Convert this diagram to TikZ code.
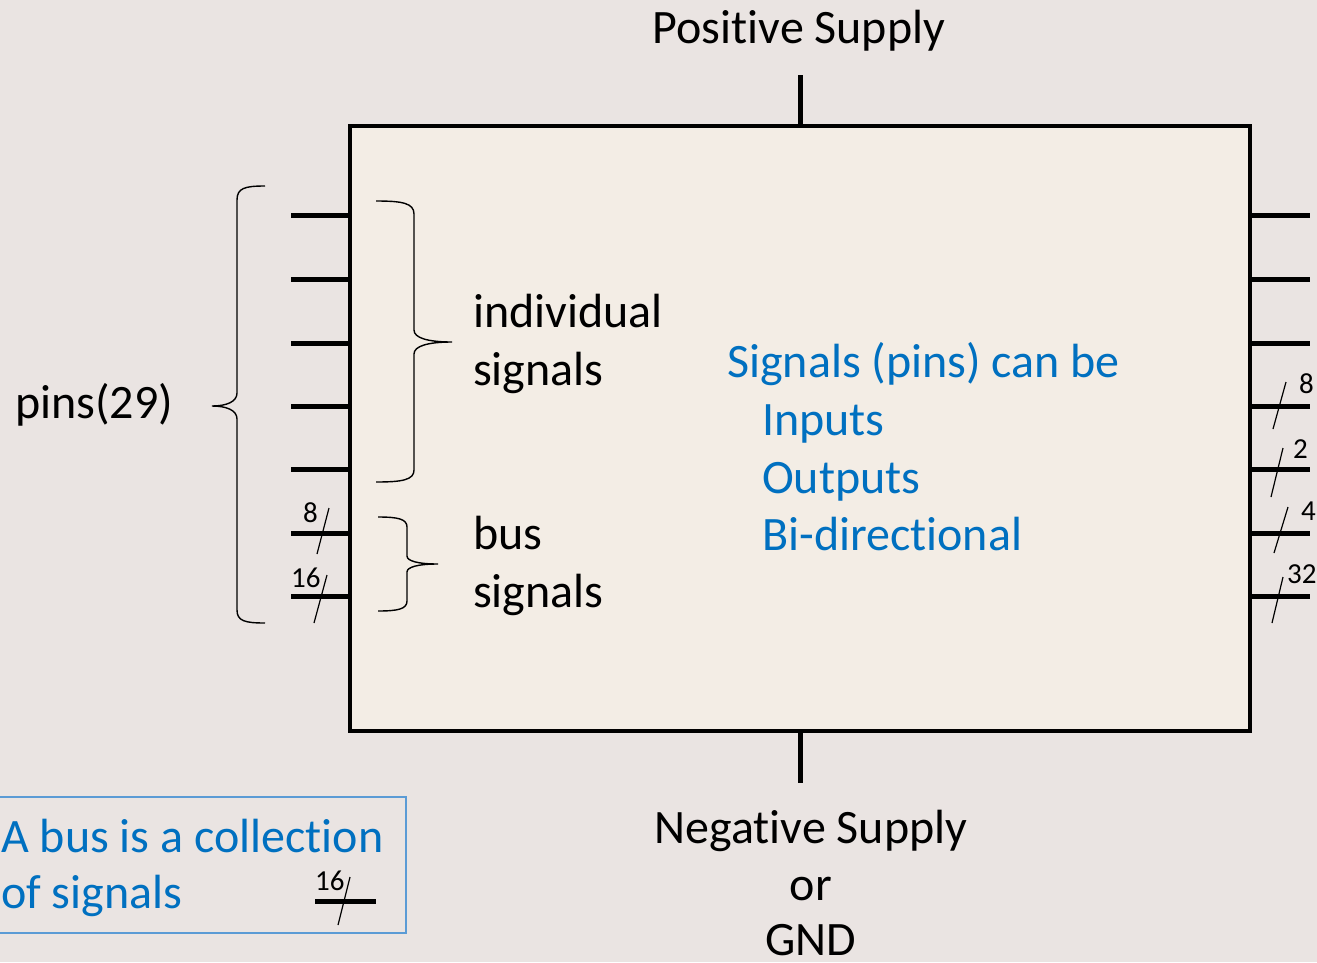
\documentclass[tikz,border=0pt]{standalone}
\usepackage{fontspec}
\setmainfont{Carlito}[Ligatures=NoCommon]
\definecolor{bgcol}{RGB}{234,228,226}
\definecolor{chipbg}{RGB}{243,237,229}
\definecolor{txtblue}{RGB}{0,112,192}
\definecolor{boxblue}{RGB}{91,155,213}
\begin{document}
\begin{tikzpicture}[x=1pt,y=-1pt,
  bigtxt/.style={font=\fontsize{48}{56}\selectfont, inner sep=0pt, anchor=base west},
  ctrtxt/.style={font=\fontsize{48}{56}\selectfont, inner sep=0pt, anchor=base},
  bluetxt/.style={bigtxt, text=txtblue},
  numtxt/.style={font=\fontsize{29}{34}\selectfont, inner sep=0pt, anchor=base west},
  pinline/.style={line width=5pt},
  slashline/.style={line width=1.2pt},
  bracel/.style={line width=1.4pt},
  chipbox/.style={draw, line width=4.5pt, fill=chipbg, minimum width=900pt, minimum height=605pt, inner sep=0pt}]
\useasboundingbox (0,0) rectangle (1317,962);
\fill[bgcol] (0,0) rectangle (1317,962);

% chip
\node[chipbox] (chip) at (800,428.5) {};

% supply pins
\coordinate (vtop) at (800,75);
\coordinate (vbot) at (800,783);
\draw[pinline] (chip.north) -- (vtop);
\draw[pinline] (chip.south) -- (vbot);

% left pins
\foreach \i/\y in {1/215,2/279,3/343,4/406,5/469,6/533,7/596}{
  \coordinate (L\i) at (291,\y);
  \coordinate (LB\i) at (350,\y);
  \draw[pinline] (LB\i) -- (L\i);
}
% right pins
\foreach \i/\y in {1/215,2/279,3/343,4/406,5/469,6/533,7/596}{
  \coordinate (R\i) at (1310,\y);
  \coordinate (RB\i) at (1250,\y);
  \draw[pinline] (RB\i) -- (R\i);
}

% bus slashes left
\draw[slashline] (329,508) -- (317,554);
\node[numtxt] (nL8) at (303,522) {8};
\draw[slashline] (327,575) -- (314,623);
\node[numtxt] (nL16) at (291,587) {16};

% bus slashes right
\draw[slashline] (1286,382) -- (1273,429);
\node[numtxt] (nR8) at (1299,393) {8};
\draw[slashline] (1283,448) -- (1271,497);
\node[numtxt] (nR2) at (1293,458) {2};
\draw[slashline] (1288,507) -- (1274,553);
\node[numtxt] (nR4) at (1301,520) {4};
\draw[slashline] (1283,577) -- (1272,623);
\node[numtxt] (nR32) at (1287,583) {32};

% braces
\draw[bracel] (265,186) .. controls (245,186) and (237,188) .. (237,200)
  -- (237,393) .. controls (237,402) and (226,406) .. (212,406)
  .. controls (226,406) and (237,410) .. (237,419)
  -- (237,610) .. controls (237,621) and (245,623) .. (265,623);
\draw[bracel] (376,201) .. controls (402,201) and (414,203) .. (414,214)
  -- (414,330) .. controls (414,338) and (428,342) .. (452,342)
  .. controls (428,342) and (414,346) .. (414,354)
  -- (414,470) .. controls (414,480) and (402,482) .. (376,482);
\draw[bracel] (378,517) .. controls (398,517) and (407,519) .. (407,527)
  -- (407,556) .. controls (407,561) and (418,564) .. (438,564)
  .. controls (418,564) and (407,567) .. (407,572)
  -- (407,601) .. controls (407,609) and (398,611) .. (378,611);

% texts
\node[ctrtxt] (pos) at (799,43) {Positive Supply};
\node[ctrtxt] (neg) at (811,843) {Negative Supply};
\node[ctrtxt] (or) at (811,900) {or};
\node[ctrtxt] (gnd) at (811,955) {GND};
\node[bigtxt] (pins) at (15,418) {pins(29)};
\node[bigtxt] (ind1) at (473,327) {individual};
\node[bigtxt] (ind2) at (473,385) {signals};
\node[bigtxt] (bus1) at (473,549) {bus};
\node[bigtxt] (bus2) at (473,607) {signals};
\node[bluetxt] (b1) at (727,377) {Signals (pins) can be};
\node[bluetxt] (b2) at (762,435) {Inputs};
\node[bluetxt] (b3) at (762,493) {Outputs};
\node[bluetxt] (b4) at (762,550) {Bi-directional};

% note box
\draw[boxblue, line width=1.5pt] (-2,797) rectangle (406,933);
\node[bluetxt] (n1) at (1,852) {A bus is a collection};
\node[bluetxt] (n2) at (1,908) {of signals};
\coordinate (busA) at (315,901);
\coordinate (busB) at (376,901);
\draw[pinline] (busA) -- (busB);
\draw[slashline] (350,877) -- (338,925);
\node[numtxt] (n16) at (315,890) {16};
\end{tikzpicture}
\end{document}
